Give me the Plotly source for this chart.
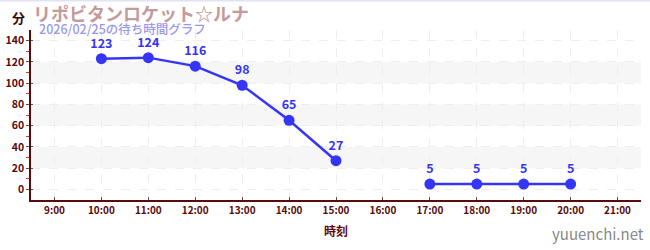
import plotly.graph_objects as go

hours = [9, 10, 11, 12, 13, 14, 15, 16, 17, 18, 19, 20, 21]
tick_labels = ["9:00", "10:00", "11:00", "12:00", "13:00", "14:00", "15:00",
               "16:00", "17:00", "18:00", "19:00", "20:00", "21:00"]
times = [10, 11, 12, 13, 14, 15, 16, 17, 18, 19, 20]
waits = [123, 124, 116, 98, 65, 27, None, 5, 5, 5, 5]
y_ticks = [0, 20, 40, 60, 80, 100, 120, 140]
title = "リポビタンロケット☆ルナ"
subtitle = "2026/02/25の待ち時間グラフ"

FONT = "Noto Sans CJK JP"
AXIS = "#5a0a0a"
BLUE = "#3535f5"

fig = go.Figure()
fig.add_trace(go.Scatter(
    x=times, y=waits, mode="lines+markers+text",
    line=dict(color=BLUE, width=2.5),
    marker=dict(color=BLUE, size=11),
    text=[str(v) if v is not None else "" for v in waits],
    textposition="top center",
    textfont=dict(family=FONT, size=12.5, color=BLUE, weight="bold"),
    connectgaps=False, cliponaxis=False, showlegend=False,
))
fig.add_trace(go.Scatter(x=[None], y=[None], yaxis="y2", showlegend=False))

shapes = []
for lo in [20, 60, 100]:
    shapes.append(dict(type="rect", xref="paper", yref="y", x0=0, x1=1, y0=lo, y1=lo + 20,
                       fillcolor="#f6f6f6", line=dict(width=0), layer="below"))
shapes.append(dict(type="line", xref="paper", yref="paper", x0=-31/610, x1=1 + 9/610,
                   y0=1 + 29.5/170, y1=1 + 29.5/170, line=dict(color="#e2e2f6", width=2)))
fig.update_layout(
    width=650, height=250,
    margin=dict(l=31, r=9, t=30, b=50),
    paper_bgcolor="white", plot_bgcolor="white",
    shapes=shapes,
    xaxis=dict(
        range=[8.5, 21.5], tickvals=hours, ticktext=tick_labels, automargin=False,
        showgrid=True, gridcolor="#eeeeee", griddash="dash", gridwidth=1,
        showline=True, linecolor=AXIS, linewidth=1.5,
        ticks="inside", ticklen=3, tickcolor="#555", zeroline=False,
        tickfont=dict(family=FONT, size=10, color=AXIS, weight="bold"),
        title=dict(text="<b>時刻</b>", font=dict(family=FONT, size=12, color=AXIS), standoff=12),
    ),
    yaxis=dict(
        range=[-10, 150], tickvals=y_ticks, automargin=False,
        showgrid=True, gridcolor="#eeeeee", griddash="dash", gridwidth=1,
        showline=True, linecolor=AXIS, linewidth=1.5, zeroline=False,
        ticks="outside", ticklen=3, tickcolor="#555",
        tickfont=dict(family=FONT, size=10.5, color=AXIS, weight="bold"),
        minor=dict(tickvals=[10, 30, 50, 70, 90, 110, 130], ticks="outside",
                   ticklen=3, tickcolor="#e03030", showgrid=False),
    ),
    yaxis2=dict(range=[-10, 150], overlaying="y", tickvals=y_ticks, showticklabels=False,
                ticks="inside", ticklen=2, tickcolor="#555", showgrid=False, automargin=False,
                showline=False, zeroline=False, side="left"),
    annotations=[
        dict(text="分", xref="paper", yref="paper", x=-31/610 + 10/610, y=1 + 13/170,
             xanchor="left", yanchor="middle", showarrow=False,
             font=dict(family=FONT, size=13, color="#3a0a0a", weight="bold")),
        dict(text=title, xref="paper", yref="paper", x=-31/610 + 31/610, y=1 + 17/170,
             xanchor="left", yanchor="middle", showarrow=False,
             font=dict(family=FONT, size=18, color="#c49a9a", weight="bold")),
        dict(text=subtitle, xref="paper", yref="paper", x=-31/610 + 37/610, y=1 + 1.5/170,
             xanchor="left", yanchor="middle", showarrow=False,
             font=dict(family=FONT, size=12.5, color="#9898ee", weight=500)),
        dict(text="yuuenchi.net", xref="paper", yref="paper", x=1 + 5/610, y=-33/170,
             xanchor="right", yanchor="middle", showarrow=False,
             font=dict(family=FONT, size=15, color="#888")),
    ],
)
fig.write_html("out.html")
